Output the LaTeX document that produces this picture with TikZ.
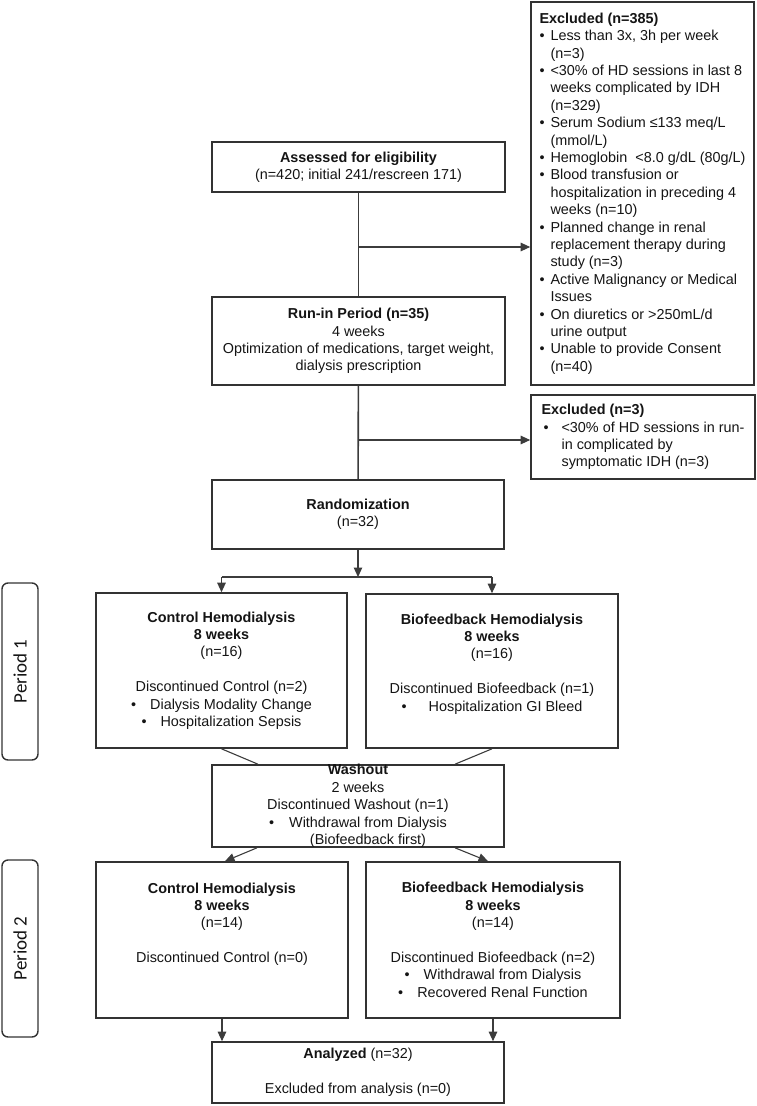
\documentclass[tikz,border=0pt]{standalone}
\usepackage{fontspec}
\setmainfont{Liberation Sans}
\newfontfamily\periodfont{Carlito}
\usetikzlibrary{arrows.meta}

\definecolor{boxgray}{RGB}{50,50,50}
\definecolor{linegray}{RGB}{60,60,60}
\definecolor{inkgray}{RGB}{20,20,20}

\newcommand{\exbul}{\makebox[11pt][l]{\textbullet}}
\newcommand{\exind}{\hspace*{11pt}}

\begin{document}
\begin{tikzpicture}[
    x = 1pt, y = -1pt,
    > = {Triangle[length = 9.5pt, width = 8.5pt]},
    font = \fontsize{14.4}{17.4}\selectfont,
    box/.style = {draw = boxgray,
      line width = 1.6pt,
      text = inkgray,
      align = center,
      inner sep = 0pt},
    excluded/.style = {box, align = left},
    period/.style = {draw = boxgray,
      line width = 1.4pt,
      rounded corners = 6pt,
      rotate = 90,
      text = inkgray,
      minimum width = 177pt,
      minimum height = 36pt,
      font = \periodfont\fontsize{19}{22}\selectfont},
    trunk/.style = {draw = linegray, line width = 1.6pt},
    branch/.style = {draw = linegray, line width = 1.1pt},
    ]

    \useasboundingbox (0, 0) rectangle (757, 1106);

    % screening
    \node at (642.5, 193.5)
    [excluded, minimum width = 223pt, minimum height = 383pt, name = excl_a]
    {\textbf{Excluded (n=385)}\\
      \exbul Less than 3x, 3h per week\\
      \exind (n=3)\\
      \exbul <30\% of HD sessions in last 8\\
      \exind weeks complicated by IDH\\
      \exind (n=329)\\
      \exbul Serum Sodium ≤133 meq/L\\
      \exind (mmol/L)\\
      \exbul Hemoglobin \ <8.0 g/dL (80g/L)\\
      \exbul Blood transfusion or\\
      \exind hospitalization in preceding 4\\
      \exind weeks (n=10)\\
      \exbul Planned change in renal\\
      \exind replacement therapy during\\
      \exind study (n=3)\\
      \exbul Active Malignancy or Medical\\
      \exind Issues\\
      \exbul On diuretics or >250mL/d\\
      \exind urine output\\
      \exbul Unable to provide Consent\\
      \exind (n=40)};

    \node at (358.5, 167)
    [box, minimum width = 293pt, minimum height = 50pt, name = assess]
    {\textbf{Assessed for eligibility}\\(n=420; initial 241/rescreen 171)};

    \node at (358.5, 341)
    [box, minimum width = 293pt, minimum height = 88pt, name = runin]
    {\textbf{Run-in Period (n=35)}\\4 weeks\\
      Optimization of medications, target weight,\\dialysis prescription};

    \node at (643, 437)
    [excluded, minimum width = 224pt, minimum height = 84pt, name = excl_b]
    {\textbf{Excluded (n=3)}\\
      \makebox[20pt][l]{\hspace{2pt}\textbullet}<30\% of HD sessions in run-\\
      \hspace*{20pt}in complicated by\\
      \hspace*{20pt}symptomatic IDH (n=3)};

    \node at (358, 514.5)
    [box, minimum width = 292pt, minimum height = 69pt, name = random]
    {\textbf{Randomization}\\(n=32)};

    % period 1
    \node at (20, 671.5) [period, name = per1] {Period 1};

    \node at (221.5, 670.5)
    [box, minimum width = 251pt, minimum height = 155pt, name = ctrl1]
    {\textbf{Control Hemodialysis}\\\textbf{8 weeks}\\(n=16)\\[17.4pt]
      Discontinued Control (n=2)\\
      \textbullet\hspace{14pt}Dialysis Modality Change\\
      \textbullet\hspace{14pt}Hospitalization Sepsis};

    \node at (492, 671)
    [box, minimum width = 252pt, minimum height = 154pt, name = bio1]
    {\textbf{Biofeedback Hemodialysis}\\\textbf{8 weeks}\\(n=16)\\[17.4pt]
      Discontinued Biofeedback (n=1)\\
      \textbullet\hspace{22pt}Hospitalization GI Bleed\\~};

    \node at (358, 806)
    [box, minimum width = 292pt, minimum height = 82pt, inner ysep = -3pt,
      name = wash]
    {\textbf{Washout}\\2 weeks\\Discontinued Washout (n=1)\\
      \textbullet\hspace{15pt}Withdrawal from Dialysis\\
      \hspace*{20pt}(Biofeedback first)};

    % period 2
    \node at (20, 948.5) [period, name = per2] {Period 2};

    \node at (222, 940)
    [box, minimum width = 252pt, minimum height = 156pt, name = ctrl2]
    {\textbf{Control Hemodialysis}\\\textbf{8 weeks}\\(n=14)\\[17.4pt]
      Discontinued Control (n=0)\\~\\~};

    \node at (493, 940)
    [box, minimum width = 254pt, minimum height = 156pt, name = bio2]
    {\textbf{Biofeedback Hemodialysis}\\\textbf{8 weeks}\\(n=14)\\[17.4pt]
      Discontinued Biofeedback (n=2)\\
      \textbullet\hspace{14pt}Withdrawal from Dialysis\\
      \textbullet\hspace{14pt}Recovered Renal Function};

    \node at (358, 1072.5)
    [box, minimum width = 292pt, minimum height = 61pt, name = analyzed]
    {\textbf{Analyzed} (n=32)\\[17.4pt]Excluded from analysis (n=0)};

    % connectors
    \draw [trunk] (assess) -- (runin);
    \coordinate (to_excl_a) at (358.5, 247);
    \draw [branch, ->] (to_excl_a) -- (to_excl_a -| excl_a.west);

    \draw [trunk] (runin) -- (random);
    \coordinate (to_excl_b) at (358.5, 440);
    \draw [branch, ->] (to_excl_b) -- (to_excl_b -| excl_b.west);

    \coordinate (split) at (358, 577);
    \draw [branch, ->] (random) -- (split);
    \draw [branch] (split -| ctrl1.north) -- (split -| bio1.north);
    \draw [branch, ->] (split -| ctrl1.north) -- (ctrl1);
    \draw [branch, ->] (split -| bio1.north) -- (bio1);

    \draw [branch] (ctrl1.south) -- ([xshift = -100pt] wash.north);
    \draw [branch] (bio1.south) -- ([xshift = 97pt] wash.north);
    \draw [branch, ->] ([xshift = -101pt] wash.south) -- ([xshift = 3pt] ctrl2.north);
    \draw [branch, ->] ([xshift = 97pt] wash.south) -- ([xshift = -5pt] bio2.north);

    \draw [branch, ->] (ctrl2.south) -- (ctrl2.south |- analyzed.north);
    \draw [branch, ->] (bio2.south) -- (bio2.south |- analyzed.north);
  \end{tikzpicture}
\end{document}
